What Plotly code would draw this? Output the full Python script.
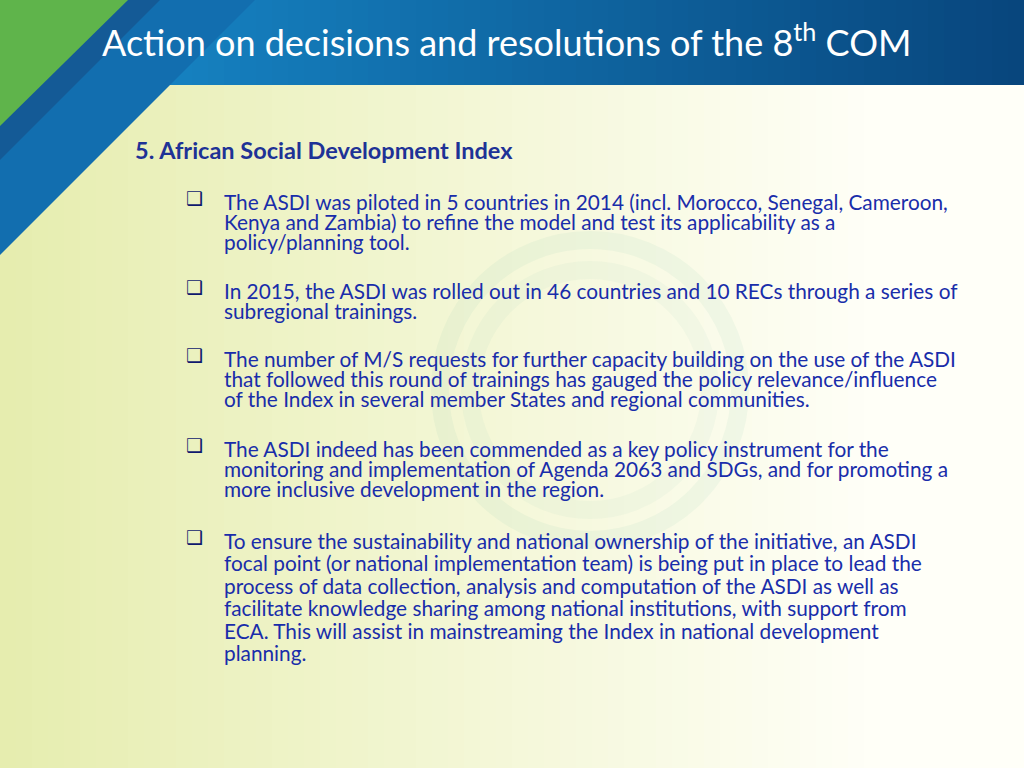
import plotly.graph_objects as go

title_main = "Action on decisions and resolutions of the 8"
title_sup = "th"
title_end = " COM"
heading = "5. African Social Development Index"
bullets = [
    ["The ASDI was piloted in 5 countries in 2014 (incl. Morocco, Senegal, Cameroon,",
     "Kenya and Zambia) to refine the model and test its applicability as a",
     "policy/planning tool."],
    ["In 2015, the ASDI was rolled out in 46 countries and 10 RECs through a series of",
     "subregional trainings."],
    ["The number of M/S requests for further capacity building on the use of the ASDI",
     "that followed this round of trainings has gauged the policy relevance/influence",
     "of the Index in several member States and regional communities."],
    ["The ASDI indeed has been commended as a key policy instrument for the",
     "monitoring and implementation of Agenda 2063 and SDGs, and for promoting a",
     "more inclusive development in the region."],
    ["To ensure the sustainability and national ownership of the initiative, an ASDI",
     "focal point (or national implementation team) is being put in place to lead the",
     "process of data collection, analysis and computation of the ASDI as well as",
     "facilitate knowledge sharing among national institutions, with support from",
     "ECA. This will assist in mainstreaming the Index in national development",
     "planning."],
]
bullet_tops = [201, 290, 358, 448, 540]
line_gaps = [20, 20, 20, 20, 22.5]

def lerp(c1, c2, t):
    return "rgb(%d,%d,%d)" % tuple(round(a + (b - a) * t) for a, b in zip(c1, c2))

shapes = []
N = 64
for i in range(N):
    t = i / (N - 1)
    c = lerp((230, 237, 175), (255, 255, 248), min(1, t * 1.15))
    shapes.append(dict(type="rect", x0=i * 1024 / N, x1=(i + 1) * 1024 / N + 1, y0=85, y1=768,
                       line=dict(width=0), fillcolor=c, layer="below"))
for i in range(N):
    t = i / (N - 1)
    c = lerp((24, 140, 205), (8, 70, 125), t)
    shapes.append(dict(type="rect", x0=i * 1024 / N, x1=(i + 1) * 1024 / N + 1, y0=0, y1=85,
                       line=dict(width=0), fillcolor=c, layer="below"))
shapes.append(dict(type="path", path="M 0 0 L 255 0 L 0 255 Z", fillcolor="rgb(18,110,175)",
                   line=dict(width=0), layer="below"))
shapes.append(dict(type="path", path="M 0 0 L 160 0 L 0 160 Z", fillcolor="rgb(20,90,150)",
                   line=dict(width=0), layer="below"))
shapes.append(dict(type="path", path="M 0 0 L 128 0 L 0 126 Z", fillcolor="rgb(95,180,75)",
                   line=dict(width=0), layer="below"))
for r, op in [(150, 0.08), (120, 0.06)]:
    shapes.append(dict(type="circle", x0=590 - r, x1=590 + r, y0=390 - r, y1=390 + r,
                       line=dict(width=18, color="rgba(120,190,170,%s)" % op), layer="below"))

ann = []
ann.append(dict(x=100, y=40, xref="x", yref="y", xanchor="left", yanchor="middle", showarrow=False,
                text=title_main + "<sup>" + title_sup + "</sup>" + title_end,
                font=dict(family="Lato", size=36, color="white")))
ann.append(dict(x=133, y=150, xref="x", yref="y", xanchor="left", yanchor="middle", showarrow=False,
                text="<b>" + heading + "</b>", font=dict(family="Lato", size=23.5, color="rgb(30,50,150)")))
for lines, top, gap in zip(bullets, bullet_tops, line_gaps):
    ann.append(dict(x=184, y=top - 3, xref="x", yref="y", xanchor="left", yanchor="middle", showarrow=False,
                    text="<b>❑</b>", font=dict(family="DejaVu Sans", size=19, color="rgb(15,25,110)")))
    for j, ln in enumerate(lines):
        ann.append(dict(x=222, y=top + j * gap, xref="x", yref="y", xanchor="left", yanchor="middle",
                        showarrow=False, text=ln,
                        font=dict(family="Lato", size=20.8, color="rgb(25,45,170)")))

fig = go.Figure()
fig.update_layout(width=1024, height=768, margin=dict(l=0, r=0, t=0, b=0),
                  paper_bgcolor="white", plot_bgcolor="white",
                  xaxis=dict(range=[0, 1024], visible=False, fixedrange=True),
                  yaxis=dict(range=[768, 0], visible=False, fixedrange=True),
                  shapes=shapes, annotations=ann, showlegend=False)
fig.write_html("out.html", config=dict(displayModeBar=False),
               post_script="document.body.style.margin='0';document.body.style.overflow='hidden';")
